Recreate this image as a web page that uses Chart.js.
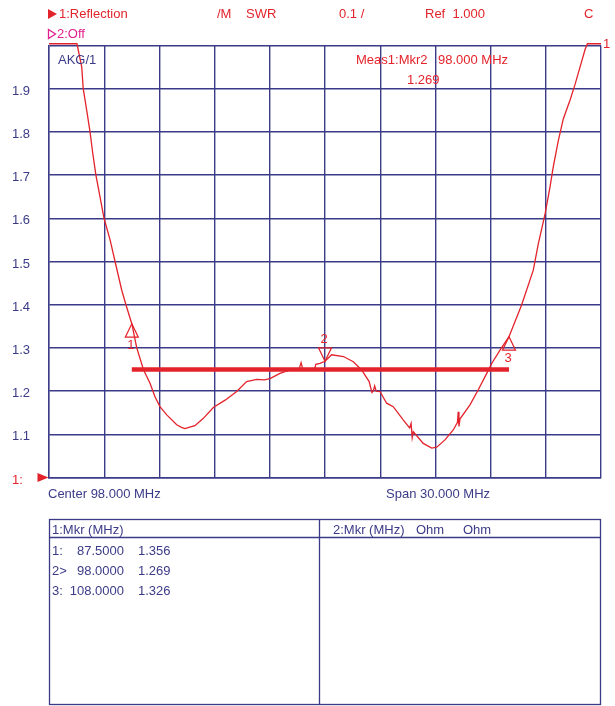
<!DOCTYPE html>
<html>
<head>
<meta charset="utf-8">
<script src="https://cdn.jsdelivr.net/npm/chart.js@4.4.1/dist/chart.umd.min.js"></script>
<style>
  html, body { margin: 0; padding: 0; background: #fff; }
  canvas { display: block; }
</style>
</head>
<body>
<canvas id="swrChart" width="615" height="706"></canvas>
<script>
// SWR trace (MHz, SWR); the screen clips the trace just above 2
const swrFreq = [83.00, 84.52, 84.78, 84.86, 85.05, 85.23, 85.38, 85.55, 85.77, 85.99,
  86.32, 86.59, 86.95, 87.18, 87.50, 87.77, 88.13, 88.49, 88.76, 89.03,
  89.40, 89.94, 90.20, 90.39, 90.60, 90.93, 91.39, 91.93, 92.57, 93.20,
  93.74, 94.29, 94.70, 95.01, 95.55, 96.10, 96.60, 96.70, 96.78, 97.30,
  97.45, 97.50, 97.73, 98.00, 98.36, 99.00, 99.54, 99.99, 100.40, 100.55,
  100.62, 100.70, 100.78, 100.99, 101.35, 101.71, 102.26, 102.60, 102.68, 102.74,
  102.80, 103.34, 103.80, 104.07, 104.52, 104.97, 105.20, 105.24, 105.28, 105.34,
  105.88, 106.33, 106.79, 107.06, 107.51, 108.00, 108.69, 109.32, 109.59, 109.96,
  110.23, 110.41, 110.68, 110.95, 111.32, 111.59, 111.86, 112.13, 112.26, 113.00];
const swrVal = [2.004, 2.004, 1.950, 1.900, 1.850, 1.800, 1.750, 1.700, 1.650, 1.600,
  1.550, 1.500, 1.434, 1.400, 1.356, 1.300, 1.250, 1.218, 1.187, 1.164,
  1.145, 1.122, 1.116, 1.113, 1.116, 1.120, 1.137, 1.162, 1.179, 1.199,
  1.222, 1.227, 1.226, 1.229, 1.241, 1.249, 1.252, 1.266, 1.252, 1.252,
  1.253, 1.262, 1.264, 1.269, 1.284, 1.280, 1.268, 1.249, 1.222, 1.197,
  1.200, 1.212, 1.200, 1.199, 1.172, 1.164, 1.133, 1.115, 1.125, 1.092,
  1.106, 1.079, 1.068, 1.070, 1.087, 1.110, 1.128, 1.152, 1.118, 1.136,
  1.168, 1.203, 1.241, 1.264, 1.295, 1.326, 1.400, 1.480, 1.540, 1.610,
  1.673, 1.720, 1.780, 1.830, 1.874, 1.910, 1.950, 1.990, 2.004, 2.004];

// markers (MHz, SWR)
const markerFreq = [87.5, 98.0, 108.0];
const markerVal = [1.356, 1.269, 1.326];
const activeMarker = 1;

// limit line
const limitFreq = [87.5, 108.0];
const limitVal = [1.25, 1.25];

// axes
const freqStart = 83, freqStop = 113, freqStep = 3;
const swrMin = 1, swrMax = 2, swrStep = 0.1;

const RED = '#e3232b';
const NAVY = '#3b3b88';
const PINK = '#e0208c';
const FONT = '13px "Liberation Sans", Arial, sans-serif';

function txt(ctx, s, x, y, color, align) {
  ctx.fillStyle = color;
  ctx.textAlign = align || 'left';
  ctx.textBaseline = 'middle';
  ctx.fillText(s, x, y);
}

const vnaOverlay = {
  id: 'vnaOverlay',
  afterDatasetsDraw(chart) {
    const ctx = chart.ctx;
    const xs = chart.scales.x, ys = chart.scales.y;
    ctx.save();
    ctx.font = FONT;
    ctx.strokeStyle = RED;
    ctx.lineWidth = 1.2;
    for (let i = 0; i < markerFreq.length; i++) {
      const px = xs.getPixelForValue(markerFreq[i]);
      const py = ys.getPixelForValue(markerVal[i]);
      const dir = i === activeMarker ? -1 : 1;
      ctx.beginPath();
      ctx.moveTo(px, py);
      ctx.lineTo(px - 6.5, py + dir * 13.5);
      ctx.lineTo(px + 6.5, py + dir * 13.5);
      ctx.closePath();
      ctx.stroke();
      txt(ctx, String(i + 1), px - 1, py + dir * 22, RED, 'center');
    }
    ctx.restore();
  },
  afterDraw(chart) {
    const ctx = chart.ctx;
    const area = chart.chartArea;
    const ys = chart.scales.y;
    ctx.save();
    ctx.font = FONT;

    // header
    ctx.fillStyle = RED;
    ctx.beginPath();
    ctx.moveTo(48, 9); ctx.lineTo(57, 14); ctx.lineTo(48, 19); ctx.closePath();
    ctx.fill();
    txt(ctx, '1:Reflection', 59, 14.5, RED);
    txt(ctx, '/M', 217, 14.5, RED);
    txt(ctx, 'SWR', 246, 14.5, RED);
    txt(ctx, '0.1 /', 339, 14.5, RED);
    txt(ctx, 'Ref  1.000', 425, 14.5, RED);
    txt(ctx, 'C', 584, 14.5, RED);

    ctx.strokeStyle = PINK;
    ctx.lineWidth = 1.3;
    ctx.beginPath();
    ctx.moveTo(48.5, 29.5); ctx.lineTo(55.5, 34); ctx.lineTo(48.5, 38.5); ctx.closePath();
    ctx.stroke();
    txt(ctx, '2:Off', 57, 34.5, PINK);

    // inside the grid
    txt(ctx, 'AKG/1', 58, 60.5, NAVY);
    const a = activeMarker;
    txt(ctx, 'Meas1:Mkr' + (a + 1), 356, 60.5, RED);
    txt(ctx, markerFreq[a].toFixed(3) + ' MHz', 438, 60.5, RED);
    txt(ctx, markerVal[a].toFixed(3), 407, 80, RED);
    txt(ctx, '1', 603, area.top - 1, RED);

    // reference level arrow
    const yRef = ys.getPixelForValue(swrMin);
    ctx.fillStyle = RED;
    ctx.beginPath();
    ctx.moveTo(37.5, yRef - 4.5); ctx.lineTo(48.5, yRef); ctx.lineTo(37.5, yRef + 4.5); ctx.closePath();
    ctx.fill();

    // bottom annotation
    const center = (freqStart + freqStop) / 2, span = freqStop - freqStart;
    txt(ctx, 'Center ' + center.toFixed(3) + ' MHz', 48, 494, NAVY);
    txt(ctx, 'Span ' + span.toFixed(3) + ' MHz', 386, 494, NAVY);

    // marker table
    ctx.strokeStyle = NAVY;
    ctx.lineWidth = 1.3;
    ctx.strokeRect(49.5, 519.5, 551, 185);
    ctx.beginPath();
    ctx.moveTo(49.5, 537.5); ctx.lineTo(600.5, 537.5);
    ctx.moveTo(319.5, 519.5); ctx.lineTo(319.5, 704.5);
    ctx.stroke();
    txt(ctx, '1:Mkr (MHz)', 52, 530.5, NAVY);
    txt(ctx, '2:Mkr (MHz)', 333, 530.5, NAVY);
    txt(ctx, 'Ohm', 416, 530.5, NAVY);
    txt(ctx, 'Ohm', 463, 530.5, NAVY);
    for (let i = 0; i < markerFreq.length; i++) {
      const y = 551 + i * 20;
      txt(ctx, (i + 1) + (i === a ? '>' : ':'), 52, y, NAVY);
      txt(ctx, markerFreq[i].toFixed(4), 124, y, NAVY, 'right');
      txt(ctx, markerVal[i].toFixed(3), 138, y, NAVY);
    }
    ctx.restore();
  }
};

new Chart(document.getElementById('swrChart'), {
  type: 'line',
  data: {
    datasets: [
      {
        data: limitFreq.map((f, i) => ({ x: f, y: limitVal[i] })),
        borderColor: RED,
        borderWidth: 4.5,
        borderCapStyle: 'butt',
        pointRadius: 0
      },
      {
        data: swrFreq.map((f, i) => ({ x: f, y: swrVal[i] })),
        borderColor: RED,
        borderWidth: 1.3,
        pointRadius: 0,
        tension: 0,
        clip: false
      }
    ]
  },
  options: {
    responsive: false,
    animation: false,
    layout: { padding: { left: 12, top: 45.5, right: 14, bottom: 228.5 } },
    plugins: { legend: { display: false }, tooltip: { enabled: false } },
    scales: {
      x: {
        type: 'linear',
        min: freqStart,
        max: freqStop,
        ticks: { display: false, stepSize: freqStep },
        grid: { color: NAVY, lineWidth: 1.4, drawTicks: false },
        border: { color: NAVY, width: 1.4 },
        afterFit: s => { s.height = 0; }
      },
      y: {
        min: swrMin,
        max: swrMax,
        ticks: {
          stepSize: swrStep,
          crossAlign: 'far',
          labelOffset: 2.5,
          padding: 0,
          font: { family: '"Liberation Sans", Arial, sans-serif', size: 13 },
          color: c => Math.abs(c.tick.value - swrMin) < 1e-6 ? RED : NAVY,
          callback: v => Math.abs(v - swrMin) < 1e-6 ? '1:' : (Math.abs(v - swrMax) < 1e-6 ? '' : v.toFixed(1))
        },
        grid: { color: NAVY, lineWidth: 1.4, drawTicks: false },
        border: { color: NAVY, width: 1.4 },
        afterFit: s => { s.width = 37; }
      }
    }
  },
  plugins: [vnaOverlay]
});
</script>
</body>
</html>
